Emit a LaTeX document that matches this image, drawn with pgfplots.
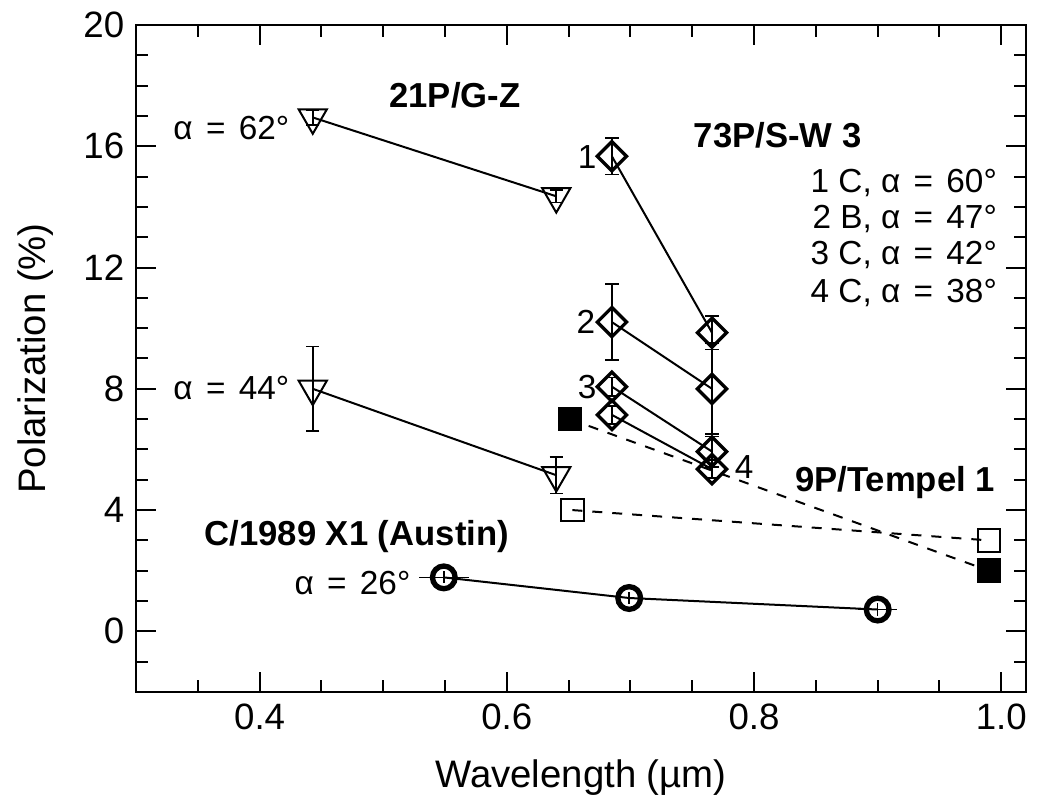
\documentclass[border=0pt]{standalone}
\usepackage{pgfplots}
\pgfplotsset{compat=1.18}
\usepackage{fontspec}
\setmainfont{Liberation Sans}
\newcommand{\al}[1]{α\hspace{4pt}=\hspace{4pt}#1°}
\begin{document}
\begin{tikzpicture}
\begin{axis}[
  scale only axis, width=267pt, height=200.1pt,
  xmin=0.3, xmax=1.02, ymin=-2, ymax=20,
  xtick={0.4,0.6,0.8,1.0}, ytick={0,4,8,12,16,20},
  minor xtick={0.35,0.45,0.5,0.55,0.65,0.7,0.75,0.85,0.9,0.95},
  minor ytick={-1,1,2,3,5,6,7,9,10,11,13,14,15,17,18,19},
  tick align=inside, major tick length=6pt, minor tick length=3.5pt,
  xticklabel style={/pgf/number format/.cd, fixed, fixed zerofill, precision=1},
  /pgf/number format/assume math mode=true,
  ticklabel style={font=\fontsize{11}{13}\selectfont},
  label style={font=\fontsize{11.5}{13}\selectfont},
  xlabel={Wavelength (µm)}, ylabel={Polarization (\%)},
  xlabel style={yshift=-2pt}, ylabel style={yshift=2pt},
  axis line style={line width=0.8pt}, tick style={line width=0.6pt, black},
  clip=false,
  error bars/error bar style={line width=0.5pt},
  error bars/error mark options={rotate=90, mark size=2pt, line width=0.5pt},
]
% 21P/G-Z alpha=62
\addplot[black, line width=0.6pt, mark=triangle, mark size=4.9pt, mark options={rotate=180, line width=0.6pt, solid},
  error bars/.cd, y dir=both, y explicit] coordinates {(0.443,16.95) +- (0,0.25) (0.640,14.35) +- (0,0.2)};
% alpha=44
\addplot[black, line width=0.6pt, mark=triangle, mark size=4.9pt, mark options={rotate=180, line width=0.6pt, solid},
  error bars/.cd, y dir=both, y explicit] coordinates {(0.443,8.0) +- (0,1.4) (0.640,5.15) +- (0,0.6)};
% 73P diamonds
\addplot[black, line width=0.6pt, mark=square, mark size=3.1pt, mark options={rotate=45, line width=1pt, solid},
  error bars/.cd, y dir=both, y explicit] coordinates {(0.685,15.67) +- (0,0.6) (0.766,9.85) +- (0,0.55)};
\addplot[black, line width=0.6pt, mark=square, mark size=3.1pt, mark options={rotate=45, line width=1pt, solid},
  error bars/.cd, y dir=both, y explicit] coordinates {(0.685,10.2) +- (0,1.25) (0.766,8.0) +- (0,1.5)};
\addplot[black, line width=0.6pt, mark=square, mark size=3.1pt, mark options={rotate=45, line width=1pt, solid},
  error bars/.cd, y dir=both, y explicit] coordinates {(0.685,8.07) +- (0,0.3) (0.766,5.93) +- (0,0.5)};
\addplot[black, line width=0.6pt, mark=square, mark size=3.1pt, mark options={rotate=45, line width=1pt, solid},
  error bars/.cd, y dir=both, y explicit] coordinates {(0.685,7.14) +- (0,0.3) (0.766,5.35) +- (0,0.3)};
% 9P/Tempel 1
\addplot[black, line width=0.6pt, dashed, mark=square*, mark size=3.4pt, mark options={solid, fill=black}] coordinates {(0.651,7.0) (0.990,2.0)};
\addplot[black, line width=0.6pt, dashed, mark=square, mark size=3.4pt, mark options={solid, line width=0.6pt}] coordinates {(0.653,4.0) (0.990,3.0)};
% Austin
\addplot[black, line width=0.6pt, mark=o, mark size=3.4pt, mark options={solid, line width=1.6pt},
  error bars/.cd, x dir=both, x explicit, y dir=both, y explicit, error mark=none]
  coordinates {(0.549,1.78) +- (0.02,0.2) (0.699,1.1) +- (0,0.2) (0.900,0.72) +- (0.016,0.2)};
% annotations
\node[font=\fontsize{10.4}{12}\selectfont\bfseries] at (axis cs:0.558,17.68) {21P/G-Z};
\node[font=\fontsize{10}{12}\selectfont, anchor=east, inner sep=0pt] at (axis cs:0.4245,16.6) {\al{62}};
\node[font=\fontsize{10.4}{12}\selectfont\bfseries] at (axis cs:0.819,16.36) {73P/S-W 3};
\node[font=\fontsize{10}{12}\selectfont, anchor=east, inner sep=0pt] at (axis cs:0.997,14.78) {1 C, \al{60}};
\node[font=\fontsize{10}{12}\selectfont, anchor=east, inner sep=0pt] at (axis cs:0.997,13.6) {2 B, \al{47}};
\node[font=\fontsize{10}{12}\selectfont, anchor=east, inner sep=0pt] at (axis cs:0.997,12.41) {3 C, \al{42}};
\node[font=\fontsize{10}{12}\selectfont, anchor=east, inner sep=0pt] at (axis cs:0.997,11.16) {4 C, \al{38}};
\node[font=\fontsize{10}{12}\selectfont, anchor=east, inner sep=0pt] at (axis cs:0.4245,8.03) {\al{44}};
\node[font=\fontsize{10.4}{12}\selectfont\bfseries] at (axis cs:0.4786,3.13) {C/1989 X1 (Austin)};
\node[font=\fontsize{10}{12}\selectfont, anchor=east, inner sep=0pt] at (axis cs:0.5225,1.61) {\al{26}};
\node[font=\fontsize{10.4}{12}\selectfont\bfseries] at (axis cs:0.914,4.9) {9P/Tempel 1};
\node[font=\fontsize{10}{12}\selectfont] at (axis cs:0.665,15.64) {1};
\node[font=\fontsize{10}{12}\selectfont] at (axis cs:0.664,10.2) {2};
\node[font=\fontsize{10}{12}\selectfont] at (axis cs:0.665,8.07) {3};
\node[font=\fontsize{10}{12}\selectfont] at (axis cs:0.792,5.43) {4};
\end{axis}
\path (current axis.south west) ++(-40.8pt,-33.6pt) coordinate (bl);
\path (current axis.north east) ++(6.6pt,7.5pt) coordinate (tr);
\path (bl) rectangle (tr);
\end{tikzpicture}
\end{document}
